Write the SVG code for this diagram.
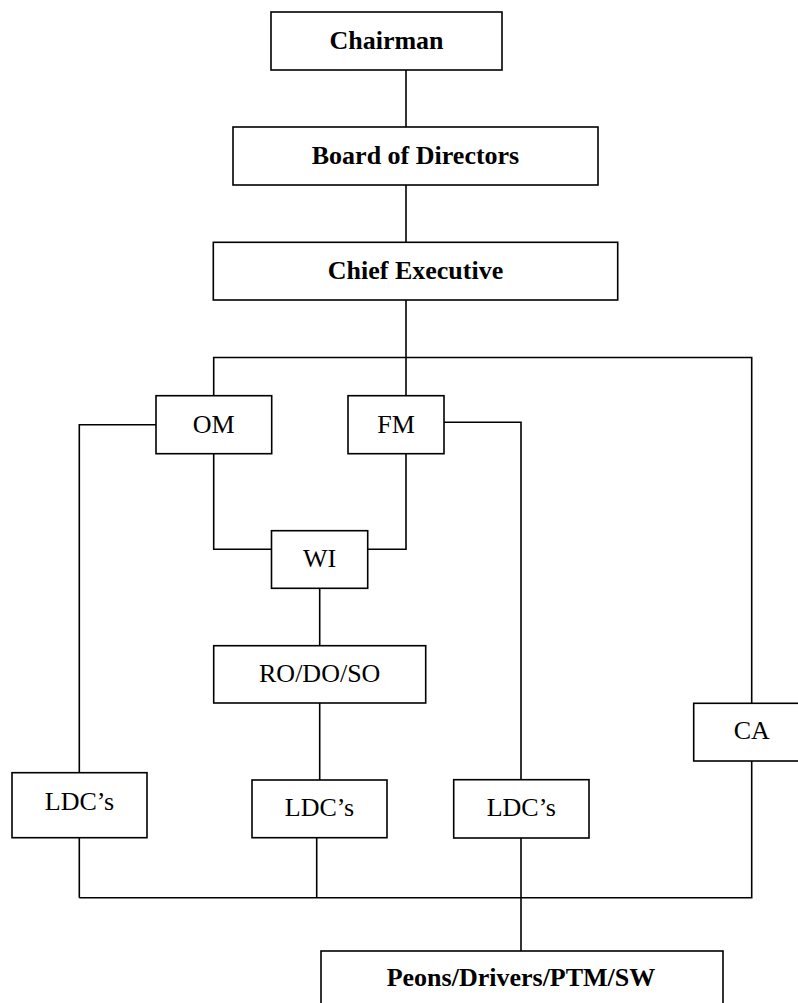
<svg xmlns="http://www.w3.org/2000/svg" width="798" height="1003" viewBox="0 0 798 1003">
<style>
.box{fill:#fff;stroke:#000;stroke-width:1.6}
.ln{fill:none;stroke:#000;stroke-width:1.6}
.t{font-family:"Liberation Serif","Times New Roman",serif;font-size:26px;text-anchor:middle;fill:#000}
.b{font-weight:bold}
</style>
<rect width="798" height="1003" fill="#fff"/>
<g id="connectors" class="ln">
<path d="M406,70V127"/>
<path d="M406,185V242"/>
<path d="M406,300V396"/>
<path d="M213.7,396V357.5H751.7V703.3"/>
<path d="M156,424.7H79.3V772.7"/>
<path d="M444,422.3H521V779.7"/>
<path d="M213.7,453.7V549.3H271.7"/>
<path d="M406,453.7V549.3H367.7"/>
<path d="M319.7,588.3V645.7"/>
<path d="M319.7,703V780"/>
<path d="M79.3,837.7V897.7"/>
<path d="M316.7,837.7V897.7"/>
<path d="M521,838V951"/>
<path d="M751.7,761V897.7H79.3"/>
</g>
<g id="chairman"><rect class="box" x="271" y="12" width="231" height="58"/><text class="t b" x="386.5" y="49">Chairman</text></g>
<g id="board"><rect class="box" x="233" y="127" width="365" height="58"/><text class="t b" x="415.5" y="164">Board of Directors</text></g>
<g id="chief"><rect class="box" x="213.3" y="242.3" width="404.4" height="57.7"/><text class="t b" x="415.5" y="279">Chief Executive</text></g>
<g id="om"><rect class="box" x="156" y="395.7" width="115.7" height="58"/><text class="t" x="213.8" y="433">OM</text></g>
<g id="fm"><rect class="box" x="348" y="395.7" width="96" height="58"/><text class="t" x="396" y="433">FM</text></g>
<g id="wi"><rect class="box" x="271.5" y="530.7" width="96.2" height="57.6"/><text class="t" x="319.6" y="566.5">WI</text></g>
<g id="ro"><rect class="box" x="213.7" y="645.7" width="212" height="57.3"/><text class="t" x="319.7" y="681.5">RO/DO/SO</text></g>
<g id="ldc1"><rect class="box" x="12" y="772.7" width="135" height="65"/><text class="t" x="79.5" y="809.5">LDC’s</text></g>
<g id="ldc2"><rect class="box" x="252" y="780" width="135" height="57.7"/><text class="t" x="319.5" y="816">LDC’s</text></g>
<g id="ldc3"><rect class="box" x="453.7" y="779.7" width="135.3" height="58.3"/><text class="t" x="521.3" y="816">LDC’s</text></g>
<g id="ca"><rect class="box" x="693.7" y="703.3" width="116" height="57.7"/><text class="t" x="751.7" y="739">CA</text></g>
<g id="peons"><rect class="box" x="321" y="951" width="402" height="70"/><text class="t b" x="521" y="986">Peons/Drivers/PTM/SW</text></g>
</svg>
